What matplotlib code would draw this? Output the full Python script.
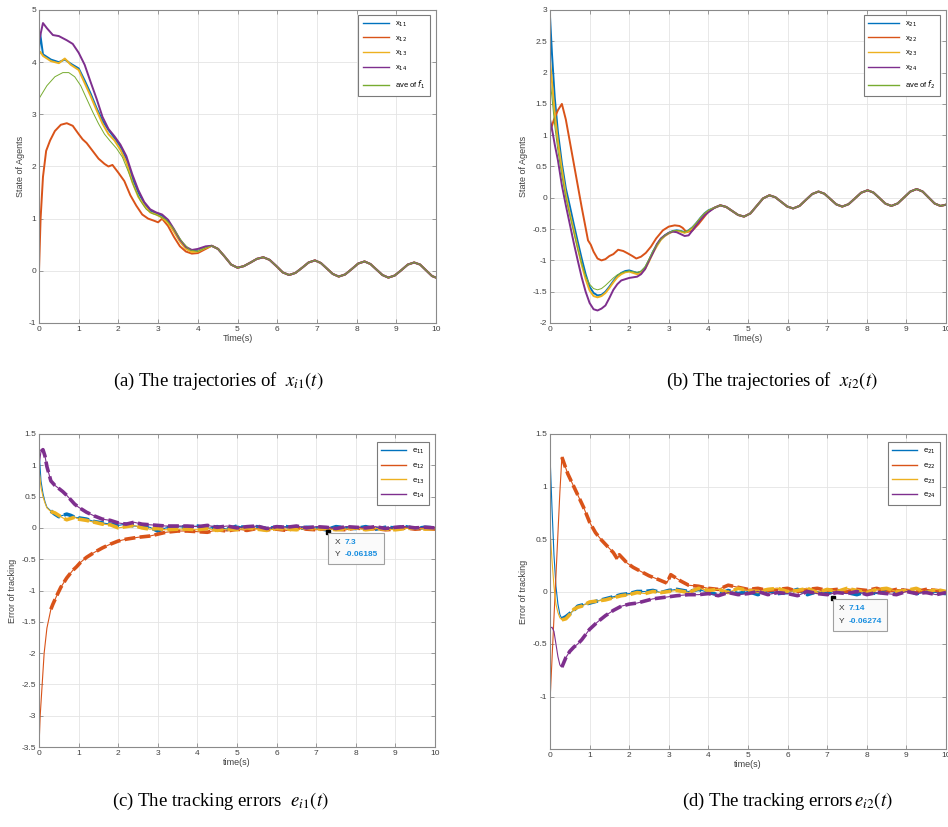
import matplotlib
matplotlib.use("Agg")
import matplotlib.pyplot as plt
from matplotlib.font_manager import FontProperties
from matplotlib.patches import Rectangle

plt.rcParams["font.family"] = ["Liberation Sans", "DejaVu Sans"]

# MATLAB default line colours
C_BLUE = "#0072BD"
C_ORANGE = "#D95319"
C_YELLOW = "#EDB120"
C_PURPLE = "#7E2F8E"
C_GREEN = "#77AC30"

# ---------------- panel (a): x_i1(t) ----------------
t_a = [0, 0.03, 0.1, 0.3, 0.5, 0.65, 0.8, 1.0, 1.15, 1.3, 1.45, 1.6, 1.75, 1.9, 2.05,
       2.2, 2.35, 2.5, 2.65, 2.8, 2.95, 3.1, 3.25, 3.4, 3.55, 3.7, 3.85, 4.0, 4.2]
x11 = [4.2, 4.55, 4.15, 4.05, 4.0, 4.05, 3.97, 3.88, 3.65, 3.4, 3.12, 2.88, 2.7, 2.55, 2.38,
       2.15, 1.78, 1.5, 1.3, 1.15, 1.1, 1.05, 0.95, 0.78, 0.58, 0.44, 0.38, 0.38, 0.45]
x13 = [4.15, 4.2, 4.12, 4.02, 3.98, 4.07, 3.95, 3.85, 3.6, 3.35, 3.08, 2.82, 2.62, 2.5, 2.32,
       2.08, 1.7, 1.42, 1.25, 1.12, 1.08, 1.02, 0.92, 0.75, 0.56, 0.42, 0.36, 0.37, 0.44]
t_a14 = [0, 0.1, 0.2, 0.35, 0.5, 0.7, 0.85, 1.0, 1.15, 1.3, 1.45, 1.6, 1.75, 1.9, 2.05,
         2.2, 2.35, 2.5, 2.65, 2.8, 2.95, 3.1, 3.25, 3.4, 3.55, 3.7, 3.85, 4.0, 4.2]
x14 = [4.4, 4.75, 4.65, 4.52, 4.5, 4.42, 4.35, 4.18, 3.95, 3.62, 3.3, 2.95, 2.72, 2.58, 2.42,
       2.2, 1.85, 1.55, 1.32, 1.18, 1.12, 1.08, 0.98, 0.8, 0.6, 0.46, 0.4, 0.42, 0.47]
t_a12 = [0, 0.04, 0.1, 0.18, 0.28, 0.4, 0.55, 0.7, 0.85, 1.0, 1.1, 1.2, 1.35, 1.5, 1.65, 1.75,
         1.85, 2.0, 2.15, 2.3, 2.45, 2.6, 2.75, 2.9, 3.0, 3.1, 3.25, 3.4, 3.55, 3.7, 3.85, 4.0, 4.2]
x12 = [0.0, 1.0, 1.8, 2.3, 2.5, 2.68, 2.8, 2.83, 2.78, 2.62, 2.52, 2.45, 2.3, 2.15, 2.05, 2.0,
       2.03, 1.88, 1.72, 1.45, 1.25, 1.08, 1.0, 0.96, 0.93, 1.0, 0.86, 0.65, 0.47, 0.37, 0.33, 0.34, 0.42]
t_aave = [0, 0.2, 0.4, 0.6, 0.75, 0.9, 1.05, 1.2, 1.35, 1.5, 1.65, 1.8, 1.95, 2.1, 2.25,
          2.4, 2.55, 2.7, 2.85, 3.0, 3.2, 3.4, 3.6, 3.8, 4.0, 4.2]
ave1 = [3.3, 3.55, 3.72, 3.8, 3.8, 3.72, 3.55, 3.3, 3.05, 2.82, 2.62, 2.48, 2.35, 2.18, 1.9,
        1.6, 1.35, 1.18, 1.1, 1.06, 0.98, 0.8, 0.56, 0.4, 0.37, 0.44]
# common oscillating part once the agents have reached consensus
t_a_tail = [4.35, 4.51, 4.68, 4.84, 5.0, 5.16, 5.33, 5.49, 5.65, 5.81, 5.98, 6.14, 6.3, 6.46,
            6.63, 6.79, 6.95, 7.1, 7.25, 7.4, 7.55, 7.71, 7.88, 8.04, 8.2, 8.35, 8.5, 8.65,
            8.8, 8.96, 9.13, 9.29, 9.45, 9.6, 9.75, 9.9, 10.0]
a_tail = [0.48, 0.42, 0.27, 0.12, 0.06, 0.09, 0.16, 0.23, 0.26, 0.21, 0.09, -0.03, -0.08, -0.04,
          0.06, 0.16, 0.20, 0.15, 0.045, -0.06, -0.11, -0.07, 0.035, 0.14, 0.18, 0.13, 0.025, -0.08,
          -0.13, -0.09, 0.015, 0.12, 0.16, 0.12, 0.01, -0.10, -0.13]

# ---------------- panel (b): x_i2(t) ----------------
t_b = [0, 0.05, 0.12, 0.2, 0.3, 0.4, 0.5, 0.6, 0.7, 0.8, 0.9, 1.0, 1.1, 1.2, 1.3, 1.4, 1.5,
       1.6, 1.7, 1.8, 1.9, 2.0, 2.1, 2.2, 2.3, 2.4, 2.5, 2.6, 2.7, 2.8, 2.9, 3.0, 3.1, 3.2,
       3.3, 3.4, 3.5, 3.6, 3.7, 3.8, 3.9, 4.0]
x21 = [2.9, 2.3, 1.6, 1.05, 0.55, 0.15, -0.13, -0.42, -0.7, -0.97, -1.22, -1.42, -1.52, -1.56,
       -1.55, -1.5, -1.42, -1.33, -1.25, -1.2, -1.17, -1.16, -1.18, -1.2, -1.18, -1.12, -1.0,
       -0.86, -0.75, -0.66, -0.6, -0.56, -0.53, -0.52, -0.53, -0.55, -0.52, -0.47, -0.4, -0.32,
       -0.25, -0.2]
x23 = [2.2, 1.85, 1.35, 0.9, 0.45, 0.05, -0.25, -0.52, -0.8, -1.07, -1.3, -1.48, -1.57, -1.59,
       -1.57, -1.52, -1.44, -1.35, -1.27, -1.22, -1.19, -1.18, -1.2, -1.22, -1.2, -1.14, -1.02,
       -0.88, -0.77, -0.67, -0.61, -0.57, -0.54, -0.53, -0.54, -0.56, -0.53, -0.48, -0.41, -0.33,
       -0.26, -0.21]
x24 = [1.25, 1.1, 0.85, 0.6, 0.2, -0.12, -0.42, -0.72, -1.0, -1.27, -1.5, -1.68, -1.78, -1.8,
       -1.77, -1.72, -1.6, -1.47, -1.38, -1.32, -1.3, -1.28, -1.27, -1.26, -1.22, -1.14, -1.0,
       -0.88, -0.74, -0.65, -0.6, -0.56, -0.54, -0.55, -0.58, -0.61, -0.6, -0.52, -0.43, -0.35,
       -0.28, -0.23]
ave2 = [1.9, 1.6, 1.15, 0.75, 0.35, 0.0, -0.28, -0.55, -0.82, -1.05, -1.25, -1.38, -1.45, -1.47,
        -1.45, -1.4, -1.34, -1.28, -1.23, -1.2, -1.18, -1.17, -1.18, -1.19, -1.17, -1.1, -0.98,
        -0.85, -0.75, -0.66, -0.6, -0.56, -0.53, -0.52, -0.53, -0.55, -0.52, -0.47, -0.4, -0.32,
        -0.25, -0.2]
t_b22 = [0, 0.1, 0.2, 0.3, 0.4, 0.5, 0.6, 0.7, 0.8, 0.9, 0.96, 1.03, 1.1, 1.2, 1.3, 1.4, 1.5,
         1.6, 1.72, 1.85, 1.97, 2.08, 2.18, 2.3, 2.42, 2.55, 2.68, 2.85, 3.0, 3.15, 3.27, 3.35,
         3.45, 3.6, 3.75, 3.9, 4.0]
x22 = [1.05, 1.25, 1.4, 1.5, 1.25, 0.9, 0.55, 0.2, -0.15, -0.48, -0.68, -0.75, -0.86, -0.97,
       -1.0, -0.98, -0.93, -0.9, -0.83, -0.85, -0.89, -0.93, -0.97, -0.94, -0.88, -0.78, -0.65,
       -0.52, -0.46, -0.44, -0.45, -0.48, -0.55, -0.52, -0.42, -0.3, -0.22]
t_b_tail = [4.15, 4.3, 4.45, 4.6, 4.75, 4.9, 5.06, 5.22, 5.38, 5.54, 5.69, 5.84, 5.99, 6.14,
            6.3, 6.46, 6.62, 6.78, 6.93, 7.08, 7.23, 7.38, 7.54, 7.7, 7.86, 8.02, 8.17, 8.32,
            8.47, 8.62, 8.78, 8.94, 9.1, 9.26, 9.41, 9.56, 9.71, 9.86, 10.0]
b_tail = [-0.16, -0.12, -0.146, -0.21, -0.274, -0.30, -0.25, -0.13, -0.01, 0.04, 0.009, -0.065,
          -0.139, -0.17, -0.13, -0.035, 0.06, 0.10, 0.065, -0.02, -0.105, -0.14, -0.102, -0.01,
          0.082, 0.12, 0.083, -0.005, -0.093, -0.13, -0.09, 0.005, 0.10, 0.14, 0.10, 0.005,
          -0.09, -0.13, -0.11]

# ---------------- panel (c): e_i1(t) ----------------
t_c = [0, 0.05, 0.1, 0.15, 0.2, 0.3, 0.4, 0.5, 0.6, 0.7, 0.8, 0.9, 1.0, 1.2, 1.4, 1.6, 1.8,
       2.0, 2.2, 2.4, 2.6, 2.8, 3.0, 3.2, 3.5]
e11 = [1.25, 0.75, 0.55, 0.42, 0.33, 0.27, 0.22, 0.18, 0.2, 0.22, 0.2, 0.17, 0.16, 0.14, 0.1,
       0.08, 0.06, 0.04, 0.06, 0.03, 0.02, 0.01, -0.05, 0.0, 0.02]
e13 = [0.95, 0.65, 0.5, 0.4, 0.32, 0.26, 0.24, 0.2, 0.16, 0.13, 0.15, 0.17, 0.14, 0.12, 0.09,
       0.06, 0.05, 0.0, 0.02, 0.04, 0.0, -0.02, -0.01, -0.03, -0.02]
e14 = [1.0, 1.22, 1.25, 1.15, 0.98, 0.75, 0.68, 0.63, 0.58, 0.52, 0.45, 0.38, 0.33, 0.25, 0.19,
       0.14, 0.12, 0.08, 0.06, 0.09, 0.06, 0.05, 0.04, 0.03, 0.03]
t_c12 = [0, 0.03, 0.08, 0.13, 0.2, 0.3, 0.35, 0.45, 0.55, 0.7, 0.85, 0.95, 1.05, 1.2, 1.4, 1.6,
         1.8, 2.0, 2.2, 2.5, 2.8, 3.0, 3.2, 3.5]
e12 = [-3.5, -3.0, -2.5, -2.0, -1.6, -1.3, -1.22, -1.08, -0.95, -0.8, -0.68, -0.62, -0.55, -0.47,
       -0.39, -0.32, -0.26, -0.21, -0.18, -0.15, -0.13, -0.1, -0.07, -0.05]
t_tail = [3.75, 4.0, 4.25, 4.5, 4.75, 5.0, 5.25, 5.5, 5.75, 6.0, 6.25, 6.5, 6.75, 7.0, 7.25,
          7.5, 7.75, 8.0, 8.25, 8.5, 8.75, 9.0, 9.25, 9.5, 9.75, 10.0]
e11_tail = [0.01, 0.03, -0.01, 0.02, -0.02, 0.03, 0.0, 0.02, -0.01, 0.01, 0.02, -0.02, 0.01,
            0.0, -0.03, 0.02, 0.0, -0.01, 0.02, -0.02, 0.01, 0.0, 0.02, -0.01, 0.01, 0.0]
e12_tail = [-0.05, -0.06, -0.07, -0.03, -0.05, -0.02, -0.04, -0.01, -0.03, -0.02, -0.04, 0.0,
            -0.02, -0.03, -0.01, -0.02, -0.03, 0.0, -0.02, -0.01, -0.03, -0.02, 0.0, -0.02,
            -0.01, -0.02]
e13_tail = [-0.02, -0.03, -0.01, -0.04, -0.02, -0.03, 0.0, -0.02, -0.04, -0.01, -0.02, -0.03,
            0.0, -0.02, -0.01, -0.03, -0.02, 0.0, -0.03, -0.01, -0.02, -0.03, -0.01, 0.0,
            -0.02, -0.01]
e14_tail = [0.03, 0.02, 0.04, 0.01, 0.03, 0.0, 0.02, 0.03, -0.01, 0.02, 0.01, 0.03, 0.0, 0.02,
            0.01, -0.01, 0.02, 0.01, 0.0, 0.02, -0.01, 0.01, 0.02, 0.0, 0.01, 0.0]

# ---------------- panel (d): e_i2(t) ----------------
t_d = [0, 0.05, 0.1, 0.15, 0.2, 0.25, 0.3, 0.4, 0.5, 0.6, 0.7, 0.8, 0.9, 1.0, 1.2, 1.4, 1.6,
       1.8, 2.0, 2.2, 2.4, 2.6, 2.8, 3.0, 3.2, 3.5]
e21 = [1.3, 0.8, 0.35, 0.05, -0.12, -0.22, -0.26, -0.24, -0.21, -0.18, -0.14, -0.13, -0.12,
       -0.11, -0.09, -0.07, -0.05, -0.03, -0.02, 0.0, 0.0, 0.01, -0.01, 0.01, 0.02, 0.0]
e23 = [0.6, 0.3, 0.05, -0.12, -0.2, -0.25, -0.27, -0.26, -0.22, -0.17, -0.15, -0.14, -0.12,
       -0.1, -0.09, -0.08, -0.06, -0.04, -0.03, -0.01, -0.02, 0.0, -0.01, 0.0, 0.01, -0.01]
e24 = [-0.35, -0.34, -0.38, -0.5, -0.62, -0.7, -0.72, -0.63, -0.57, -0.53, -0.5, -0.46, -0.41,
       -0.36, -0.29, -0.23, -0.18, -0.14, -0.12, -0.11, -0.09, -0.07, -0.06, -0.05, -0.04, -0.03]
t_d22 = [0, 0.05, 0.1, 0.15, 0.2, 0.25, 0.3, 0.45, 0.6, 0.75, 0.85, 1.0, 1.15, 1.3, 1.45, 1.6,
         1.7, 1.75, 1.95, 2.1, 2.3, 2.5, 2.7, 2.95, 3.05, 3.3, 3.5]
e22 = [-1.05, -0.65, -0.25, 0.15, 0.55, 0.95, 1.28, 1.12, 1.0, 0.88, 0.8, 0.66, 0.56, 0.49,
       0.43, 0.37, 0.31, 0.35, 0.27, 0.23, 0.19, 0.15, 0.12, 0.08, 0.16, 0.1, 0.06]
e21_tail = [0.02, -0.01, -0.03, 0.01, -0.02, 0.0, -0.03, 0.01, -0.02, -0.01, 0.02, -0.03, 0.0,
            -0.02, 0.01, -0.01, -0.03, 0.0, -0.02, 0.01, -0.01, 0.02, -0.02, 0.0, -0.01, -0.02]
e22_tail = [0.05, 0.03, 0.02, 0.06, 0.04, 0.02, 0.03, 0.01, 0.02, 0.03, 0.0, 0.02, 0.03, 0.01,
            0.02, 0.0, 0.02, 0.01, 0.03, 0.0, 0.02, 0.01, 0.0, 0.02, 0.01, 0.0]
e23_tail = [0.03, 0.01, 0.02, -0.01, 0.03, 0.01, 0.0, 0.02, 0.03, 0.0, 0.01, 0.03, -0.01, 0.02,
            0.0, 0.03, 0.01, -0.01, 0.02, 0.03, 0.0, 0.01, 0.03, -0.01, 0.02, 0.0]
e24_tail = [-0.03, -0.02, -0.04, -0.01, -0.03, -0.02, 0.0, -0.03, -0.01, -0.02, -0.04, 0.0,
            -0.02, -0.03, -0.01, -0.02, 0.0, -0.03, -0.01, -0.02, -0.03, 0.0, -0.02, -0.01,
            -0.03, -0.01]

# data tips
tip_c = (7.3, -0.06185)
tip_d = (7.14, -0.06274)

x_ticks = list(range(0, 11))
yticks_a = [-1, 0, 1, 2, 3, 4, 5]
yticks_b = [-2, -1.5, -1, -0.5, 0, 0.5, 1, 1.5, 2, 2.5, 3]
yticks_c = [-3.5, -3, -2.5, -2, -1.5, -1, -0.5, 0, 0.5, 1, 1.5]
yticks_d = [-1, -0.5, 0, 0.5, 1, 1.5]

AX_GREY = "#8a8a8a"
TXT = "#404040"


def style(ax, ylim, yticks, ylabel, xlabel):
    ax.set_xlim(0, 10)
    ax.set_ylim(*ylim)
    ax.set_xticks(x_ticks)
    ax.set_yticks(yticks)
    ax.set_yticklabels(["%g" % v for v in yticks])
    ax.grid(True, color="#e4e4e4", linewidth=0.6)
    ax.set_axisbelow(True)
    ax.tick_params(direction="in", length=3, width=0.6, colors=AX_GREY,
                   labelcolor=TXT, labelsize=6, top=True, right=True, pad=2)
    for s in ax.spines.values():
        s.set_color(AX_GREY)
        s.set_linewidth(0.8)
    ax.set_ylabel(ylabel, fontsize=6.5, color=TXT, labelpad=3)
    ax.set_xlabel(xlabel, fontsize=6.5, color=TXT, labelpad=1)


def legend(ax, handles, labels, anchor, hl):
    prop = FontProperties(family="Liberation Sans", size=5.5, math_fontfamily="dejavusans")
    leg = ax.legend(handles, labels, loc="upper right", bbox_to_anchor=anchor, prop=prop,
                    fancybox=False, framealpha=1, edgecolor="#7a7a7a",
                    handlelength=hl, handletextpad=0.8, labelspacing=0.7,
                    borderpad=0.6, borderaxespad=0)
    leg.get_frame().set_linewidth(0.8)
    for h in leg.get_lines():
        h.set_linewidth(1.0)


def err_line(ax, t, y, color, thick_from):
    line, = ax.plot(t, y, color=color, lw=0.8)
    ax.plot(t[thick_from:], y[thick_from:], color=color, lw=2.6,
            dashes=(3, 1.2), solid_capstyle="butt", dash_capstyle="butt")
    return line


def datatip(ax, tip, x_str, y_str, box_w, box_h, dy):
    px, py = tip
    ax.plot([px], [py], marker="s", ms=2.2, color="black", zorder=6)
    ax.add_patch(Rectangle((px, py - box_h - dy), box_w, box_h, facecolor="#fafafa",
                           edgecolor="#a0a0a0", lw=0.8, zorder=6))
    xb = px + 0.12 * box_w
    for i, (k, v) in enumerate([("X", x_str), ("Y", y_str)]):
        yy = py - dy - box_h * (0.3 + 0.4 * i)
        ax.text(xb, yy, k, fontsize=6, color="#333333", va="center", ha="left", zorder=7)
        ax.text(xb + 0.17 * box_w, yy, v, fontsize=6, color="#1a8fe0", fontweight="bold",
                va="center", ha="left", zorder=7)


fig = plt.figure(figsize=(9.48, 8.27), dpi=100)
W, H = 948.0, 827.0


def axes_px(x0, y0, x1, y1):
    return fig.add_axes([x0 / W, 1 - y1 / H, (x1 - x0) / W, (y1 - y0) / H])


ax_a = axes_px(39, 10, 436, 323)
ax_b = axes_px(550, 10, 946, 323)
ax_c = axes_px(39, 434, 435, 747)
ax_d = axes_px(550, 434, 946, 749)

# (a)
lw = 1.4
la = [ax_a.plot(t_a + t_a_tail, x11 + a_tail, color=C_BLUE, lw=lw)[0],
      ax_a.plot(t_a12 + t_a_tail, x12 + a_tail, color=C_ORANGE, lw=lw)[0],
      ax_a.plot(t_a + t_a_tail, x13 + a_tail, color=C_YELLOW, lw=lw)[0],
      ax_a.plot(t_a14 + t_a_tail, x14 + a_tail, color=C_PURPLE, lw=lw)[0],
      ax_a.plot(t_aave + t_a_tail, ave1 + a_tail, color=C_GREEN, lw=0.7)[0]]
style(ax_a, (-1, 5), yticks_a, "State of Agents", "Time(s)")
legend(ax_a, la, [r"x$_{11}$", r"x$_{12}$", r"x$_{13}$", r"x$_{14}$", r"ave of $f_1$"],
       (0.985, 0.985), 3.4)

# (b)
lb = [ax_b.plot(t_b + t_b_tail, x21 + b_tail, color=C_BLUE, lw=lw)[0],
      ax_b.plot(t_b22 + t_b_tail, x22 + b_tail, color=C_ORANGE, lw=lw)[0],
      ax_b.plot(t_b + t_b_tail, x23 + b_tail, color=C_YELLOW, lw=lw)[0],
      ax_b.plot(t_b + t_b_tail, x24 + b_tail, color=C_PURPLE, lw=lw)[0],
      ax_b.plot(t_b + t_b_tail, ave2 + b_tail, color=C_GREEN, lw=0.7)[0]]
style(ax_b, (-2, 3), yticks_b, "State of Agents", "Time(s)")
legend(ax_b, lb, [r"x$_{21}$", r"x$_{22}$", r"x$_{23}$", r"x$_{24}$", r"ave of $f_2$"],
       (0.985, 0.985), 4.0)

# (c)
lc = [err_line(ax_c, t_c + t_tail, e11 + e11_tail, C_BLUE, 5),
      err_line(ax_c, t_c12 + t_tail, e12 + e12_tail, C_ORANGE, 5),
      err_line(ax_c, t_c + t_tail, e13 + e13_tail, C_YELLOW, 5),
      err_line(ax_c, t_c + t_tail, e14 + e14_tail, C_PURPLE, 1)]
style(ax_c, (-3.5, 1.5), yticks_c, "Error of tracking", "time(s)")
legend(ax_c, lc, [r"e$_{11}$", r"e$_{12}$", r"e$_{13}$", r"e$_{14}$"], (0.985, 0.975), 3.2)
datatip(ax_c, tip_c, "7.3", "-0.06185", 1.42, 0.5, 0.02)

# (d)
ld = [err_line(ax_d, t_d + t_tail, e21 + e21_tail, C_BLUE, 6),
      err_line(ax_d, t_d22 + t_tail, e22 + e22_tail, C_ORANGE, 6),
      err_line(ax_d, t_d + t_tail, e23 + e23_tail, C_YELLOW, 6),
      err_line(ax_d, t_d + t_tail, e24 + e24_tail, C_PURPLE, 6)]
style(ax_d, (-1.5, 1.5), yticks_d, "Error of tracking", "time(s)")
legend(ax_d, ld, [r"e$_{21}$", r"e$_{22}$", r"e$_{23}$", r"e$_{24}$"], (0.985, 0.975), 3.2)
datatip(ax_d, tip_d, "7.14", "-0.06274", 1.37, 0.3, 0.01)

# captions under each panel
cap = dict(fontsize=13.5, family="Liberation Serif", math_fontfamily="stix",
           ha="center", va="center", color="black")
fig.text(218 / W, 1 - 381 / H, r"(a) The trajectories of  $x_{i1}(t)$", **cap)
fig.text(772 / W, 1 - 381 / H, r"(b) The trajectories of  $x_{i2}(t)$", **cap)
fig.text(220 / W, 1 - 801 / H, r"(c) The tracking errors  $e_{i1}(t)$", **cap)
fig.text(787 / W, 1 - 801 / H, r"(d) The tracking errors$\,e_{i2}(t)$", **cap)

fig.savefig("out.png", dpi=100)
